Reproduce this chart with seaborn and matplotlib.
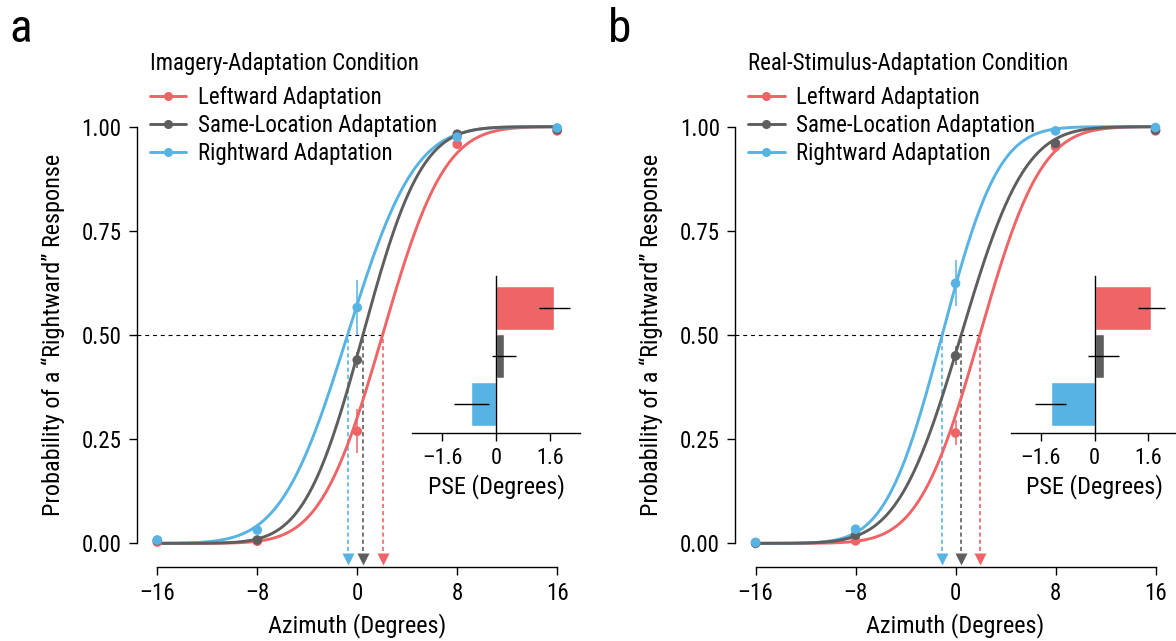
import math
import numpy as np
import pandas as pd
import seaborn as sns
import matplotlib.pyplot as plt
from matplotlib.lines import Line2D

conditions = ['Leftward Adaptation', 'Same-Location Adaptation', 'Rightward Adaptation']
colors = ['#EF6467', '#5E5E5E', '#57B3E3']
azimuth = [-16, -8, 0, 8, 16]

# panel a: imagery adaptation
img_left = [0.003, 0.005, 0.269, 0.958, 0.990]
img_same = [0.007, 0.008, 0.440, 0.982, 0.993]
img_right = [0.008, 0.032, 0.566, 0.975, 0.997]
img_err0 = [0.053, 0.020, 0.066]
img_pse = [2.02, 0.45, -0.78]
img_sigma = [3.9, 3.67, 4.2]
img_bar = [1.73, 0.24, -0.74]
img_bar_err = [0.47, 0.36, 0.53]

# panel b: real-stimulus adaptation
real_left = [0.002, 0.006, 0.265, 0.952, 0.990]
real_same = [0.000, 0.020, 0.450, 0.960, 0.992]
real_right = [0.002, 0.034, 0.624, 0.990, 0.998]
real_err0 = [0.030, 0.023, 0.055]
real_pse = [1.94, 0.45, -1.07]
real_sigma = [3.85, 4.0, 3.55]
real_bar = [1.69, 0.27, -1.30]
real_bar_err = [0.40, 0.45, 0.46]

pse_ticks = [-1.6, 0, 1.6]
pse_ticklabels = ['\u20131.6', '0', '1.6']

sns.set_theme(style='ticks')
plt.rcParams['font.family'] = ['Roboto Condensed', 'Roboto', 'DejaVu Sans']
plt.rcParams['axes.linewidth'] = 1.0
plt.rcParams['axes.edgecolor'] = 'black'
plt.rcParams['text.color'] = 'black'
plt.rcParams['axes.labelcolor'] = 'black'
plt.rcParams['xtick.color'] = 'black'
plt.rcParams['ytick.color'] = 'black'
plt.rcParams['xtick.major.width'] = 1.0
plt.rcParams['ytick.major.width'] = 1.0

W, H = 1176, 641
fig = plt.figure(figsize=(W / 100, H / 100), dpi=100)

palette = dict(zip(conditions, colors))
draw_order = [conditions[0], conditions[2], conditions[1]]
XMIN, XMAX = -17.65, 16.6
YMIN, YMAX = -0.056, 1.0


def norm_cdf(x, mu, sd):
    return 0.5 * (1 + math.erf((x - mu) / (sd * math.sqrt(2))))


def draw_panel(x0px, letter, title, probs, err0, pse, sigma, bar, bar_err):
    ax = fig.add_axes([x0px / W, 1 - 566.7 / H, 428 / W, 440 / H])
    grid = np.linspace(-16, 16, 400)
    curves = []
    for cond, mu, sd in zip(conditions, pse, sigma):
        for g in grid:
            curves.append({'x': g, 'p': norm_cdf(g, mu, sd), 'cond': cond})
    curves = pd.DataFrame(curves)
    sns.lineplot(data=curves, x='x', y='p', hue='cond', hue_order=draw_order,
                 palette=palette, lw=2.1, legend=False, ax=ax, clip_on=False)

    pts = pd.DataFrame({
        'x': azimuth * 3,
        'p': sum(probs, []),
        'cond': sum([[c] * 5 for c in conditions], []),
    })
    sns.scatterplot(data=pts, x='x', y='p', hue='cond', hue_order=draw_order,
                    palette=palette, s=48, linewidth=0, legend=False, ax=ax,
                    zorder=4, clip_on=False)
    for cond, pr, e in zip(conditions, probs, err0):
        ax.errorbar([0], [pr[2]], yerr=[e], fmt='none', ecolor=palette[cond],
                    elinewidth=1.1, capsize=0, zorder=4)

    # threshold lines
    ax.plot([XMIN, max(pse)], [0.5, 0.5], color='black', lw=0.8,
            dashes=(3.5, 3.5), clip_on=False, zorder=1)
    for cond, mu in zip(conditions, pse):
        ax.plot([mu, mu], [0.49, -0.03], color=palette[cond], lw=1.2,
                dashes=(2.5, 1.8), clip_on=False, zorder=1)
        ax.plot([mu], [-0.038], marker='v', ms=8.5, color=palette[cond],
                mec='none', clip_on=False, zorder=5)

    ax.set_xlim(XMIN, XMAX)
    ax.set_ylim(YMIN, YMAX)
    ax.set_xticks([-16, -8, 0, 8, 16])
    ax.set_xticklabels(['\u201316', '\u20138', '0', '8', '16'])
    ax.set_yticks([0, 0.25, 0.5, 0.75, 1.0])
    ax.set_yticklabels(['0.00', '0.25', '0.50', '0.75', '1.00'])
    sns.despine(ax=ax)
    ax.spines['bottom'].set_bounds(-16, 16)
    ax.spines['left'].set_bounds(0, 1)
    ax.tick_params(axis='both', labelsize=16.5, length=6, pad=5)
    ax.set_xlabel('Azimuth (Degrees)', fontsize=17.5, labelpad=6)
    ax.set_ylabel('Probability of a \u201cRightward\u201d Response', fontsize=17.5, labelpad=12)
    ax.xaxis.label.set_x((0 - XMIN) / (XMAX - XMIN))
    ax.yaxis.label.set_y((0.5 - YMIN) / (YMAX - YMIN))

    handles = [Line2D([], [], color=c, lw=2.1, marker='o', ms=5.5) for c in colors]
    leg = fig.legend(handles, conditions, title=title, loc='upper left',
                     bbox_to_anchor=((x0px + 13) / W, 1 - 52 / H), frameon=False,
                     alignment='left', fontsize=16.5, title_fontsize=16.5,
                     handlelength=1.6, handletextpad=0.5, labelspacing=0.22,
                     borderpad=0, borderaxespad=0)
    leg._legend_box.sep = 8
    fig.text((x0px - 127) / W, 1 - 42 / H, letter, fontsize=34, va='baseline')

    # inset: PSE bars
    ins = fig.add_axes([(x0px + 275.5) / W, 1 - 432.7 / H, 168 / W, 156.7 / H])
    bar_df = pd.DataFrame({'cond': conditions, 'pse': bar})
    sns.barplot(data=bar_df, x='pse', y='cond', hue='cond', palette=palette,
                orient='h', width=0.91, legend=False, ax=ins, saturation=1)
    ins.errorbar(bar, [0, 1, 2], xerr=bar_err, fmt='none', ecolor='black',
                 elinewidth=1.0, capsize=0, zorder=5)
    ins.set_xlim(-2.5, 2.5)
    ins.set_ylim(2.59, -0.66)
    ins.set_yticks([])
    ins.set_ylabel('')
    ins.set_xticks(pse_ticks)
    ins.set_xticklabels(pse_ticklabels)
    ins.set_xlabel('PSE (Degrees)', fontsize=17.5, labelpad=4)
    ins.patch.set_alpha(0)
    for s in ['top', 'right']:
        ins.spines[s].set_visible(False)
    ins.spines['left'].set_position(('data', 0))
    ins.tick_params(axis='x', labelsize=16, length=6, pad=5)
    return ax


draw_panel(136.7, 'a', 'Imagery-Adaptation Condition',
           [img_left, img_same, img_right], img_err0, img_pse, img_sigma,
           img_bar, img_bar_err)
draw_panel(735.0, 'b', 'Real-Stimulus-Adaptation Condition',
           [real_left, real_same, real_right], real_err0, real_pse, real_sigma,
           real_bar, real_bar_err)

fig.savefig('out.png', dpi=100)
